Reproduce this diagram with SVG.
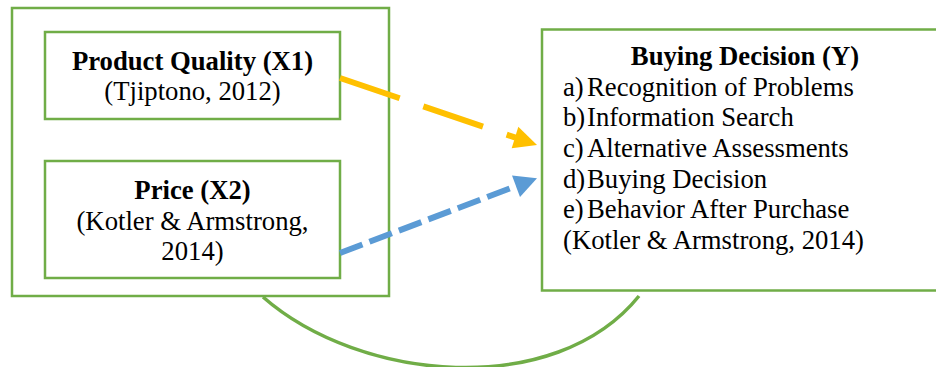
<svg xmlns="http://www.w3.org/2000/svg" width="936" height="367" viewBox="0 0 936 367">
<defs>
<style>
.box{fill:none;stroke:#70AD47;stroke-width:2.5}
.t{font-family:"Liberation Serif","Times New Roman",serif;font-size:26.7px;fill:#000}
.b{font-weight:bold}
.c{text-anchor:middle}
</style>
</defs>
<rect width="936" height="367" fill="#fff"/>
<g id="outer-group">
<rect class="box" x="12" y="8" width="377" height="288"/>
</g>
<g id="product-quality">
<rect class="box" x="45" y="32" width="295" height="87"/>
<text class="t b c" x="192.5" y="70">Product Quality (X1)</text>
<text class="t c" x="192.5" y="100">(Tjiptono, 2012)</text>
</g>
<g id="price">
<rect class="box" x="45" y="161" width="295" height="117"/>
<text class="t b c" x="192.5" y="199">Price (X2)</text>
<text class="t c" x="192.5" y="230">(Kotler &amp; Armstrong,</text>
<text class="t c" x="192.5" y="260">2014)</text>
</g>
<g id="buying-decision">
<rect class="box" x="542" y="29.5" width="400" height="261"/>
<text class="t b c" x="745" y="65">Buying Decision (Y)</text>
<text class="t" x="563" y="96">a)</text><text class="t" x="587" y="96">Recognition of Problems</text>
<text class="t" x="563" y="126">b)</text><text class="t" x="587" y="126">Information Search</text>
<text class="t" x="563" y="157">c)</text><text class="t" x="587" y="157">Alternative Assessments</text>
<text class="t" x="563" y="188">d)</text><text class="t" x="587" y="188">Buying Decision</text>
<text class="t" x="563" y="218">e)</text><text class="t" x="587" y="218">Behavior After Purchase</text>
<text class="t" x="563" y="249">(Kotler &amp; Armstrong, 2014)</text>
</g>
<g id="connectors">
<line x1="340" y1="78" x2="515.5" y2="137.6" stroke="#FFC000" stroke-width="6" stroke-dasharray="63 25"/>
<polygon points="537,145 518.3,126.7 511.7,148.3" fill="#FFC000"/>
<line x1="340" y1="253" x2="515.2" y2="186.4" stroke="#5B9BD5" stroke-width="6" stroke-dasharray="24 7.5"/>
<polygon points="537,178.3 512,175.5 520,197" fill="#5B9BD5"/>
<path d="M263,297 C360,382 555,400 639,296" fill="none" stroke="#70AD47" stroke-width="3.5"/>
</g>
</svg>
